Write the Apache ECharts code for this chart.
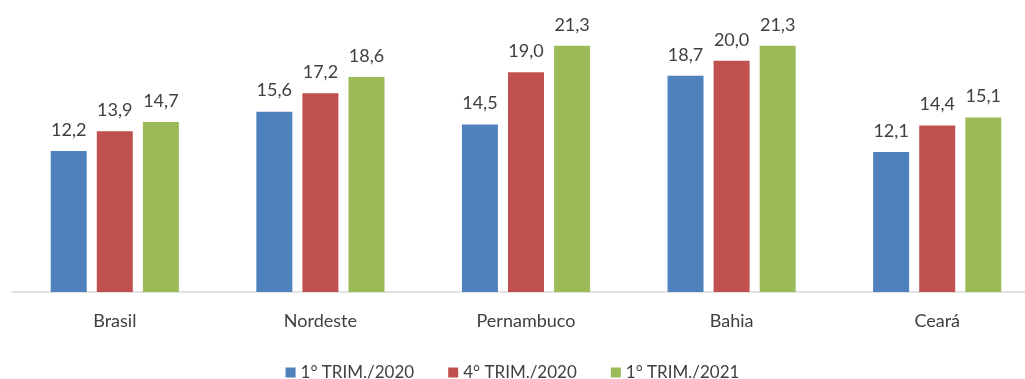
<!DOCTYPE html>
<html>
<head>
<meta charset="utf-8">
<style>
  html, body { margin: 0; padding: 0; background: #fff; }
  #chart { width: 1025px; height: 379px; }
</style>
<script src="https://cdn.jsdelivr.net/npm/echarts@6/dist/echarts.min.js"></script>
</head>
<body>
<div id="chart"></div>
<script>
const categories = ["Brasil", "Nordeste", "Pernambuco", "Bahia", "Ceará"];
const seriesNames = ["1° TRIM./2020", "4° TRIM./2020", "1° TRIM./2021"];
const trim1_2020 = [12.2, 15.6, 14.5, 18.7, 12.1];
const trim4_2020 = [13.9, 17.2, 19.0, 20.0, 14.4];
const trim1_2021 = [14.7, 18.6, 21.3, 21.3, 15.1];
const colors = ["#4F81BD", "#C0504D", "#9BBB59"];

const font = "Lato, 'Noto Sans', sans-serif";

function bar(name, data, color) {
  return {
    name: name,
    type: "bar",
    data: data,
    barWidth: 36,
    barGap: "28%",
    itemStyle: { color: color },
    label: {
      show: true,
      position: "top",
      distance: 12,
      fontFamily: font,
      fontSize: 18,
      color: "#404040",
      formatter: (p) => p.value.toFixed(1).replace(".", ","),
    },
  };
}

const chart = echarts.init(document.getElementById("chart"), null, { renderer: "canvas" });
chart.setOption({
  animation: false,
  color: colors,
  // the plot area runs a little past the right edge, as in the source picture
  grid: { left: 12, width: 1028, top: 3, height: 289, outerBoundsMode: "none" },
  legend: {
    top: 359,
    left: "center",
    itemWidth: 10,
    itemHeight: 10,
    itemGap: 34,
    icon: "rect",
    textStyle: { fontFamily: font, fontSize: 17, color: "#404040" },
  },
  xAxis: {
    type: "category",
    data: categories,
    axisLine: { lineStyle: { color: "#D9D9D9", width: 1.5 } },
    axisTick: { show: false },
    axisLabel: { fontFamily: font, fontSize: 18, color: "#404040", margin: 20 },
  },
  yAxis: {
    type: "value",
    min: 0,
    max: 25,
    show: false,
    splitLine: { show: false },
  },
  series: [
    bar(seriesNames[0], trim1_2020, colors[0]),
    bar(seriesNames[1], trim4_2020, colors[1]),
    bar(seriesNames[2], trim1_2021, colors[2]),
  ],
});
</script>
</body>
</html>
